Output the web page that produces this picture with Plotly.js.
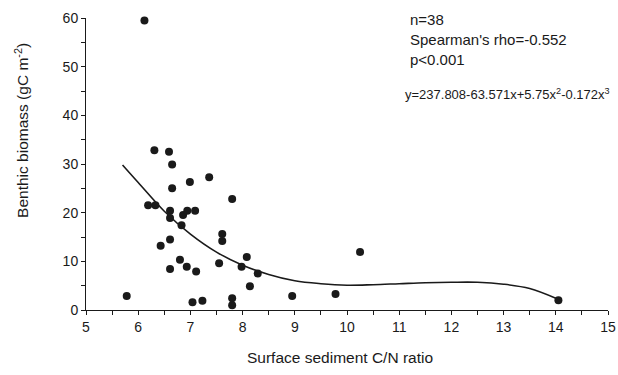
<!DOCTYPE html>
<html>
<head>
<meta charset="utf-8">
<script src="https://cdn.plot.ly/plotly-3.0.1.min.js"></script>
<style>html,body{margin:0;padding:0;background:#fff;}#chart{width:618px;height:375px;}</style>
</head>
<body>
<div id="chart"></div>
<script>
// Observed data points (C/N ratio vs benthic biomass)
var cnRatio = [6.12, 6.31, 6.59, 6.65, 6.65, 6.99, 7.36, 7.80, 6.19, 6.33,
               6.61, 6.61, 6.86, 6.94, 7.09, 6.83, 6.61, 6.43, 7.61, 7.61,
               6.80, 6.93, 6.61, 7.11, 7.55, 8.08, 7.98, 8.29, 8.14, 5.78,
               7.04, 7.23, 7.80, 7.80, 8.95, 9.78, 10.25, 14.05];
var biomass = [59.5, 32.8, 32.5, 29.9, 25.0, 26.3, 27.3, 22.8, 21.5, 21.5,
               20.4, 18.9, 19.5, 20.4, 20.4, 17.4, 14.5, 13.2, 15.6, 14.2,
               10.3, 8.9, 8.4, 7.9, 9.6, 10.9, 8.9, 7.5, 4.9, 2.9,
               1.6, 1.9, 2.4, 1.0, 2.9, 3.3, 11.9, 2.0];
// Fitted curve
var curveX = [5.7, 6, 6.5, 7, 7.5, 8, 8.5, 9, 9.5, 10, 10.5, 11, 11.5, 12, 12.5, 13, 13.5, 14];
var curveY = [29.8, 26.2, 20.3, 15.6, 11.9, 9.2, 7.3, 6.0, 5.4, 5.1, 5.2, 5.4, 5.6, 5.7, 5.7, 5.3, 4.4, 2.4];
// Axis ticks
var xTicks = [5, 6, 7, 8, 9, 10, 11, 12, 13, 14, 15];
var yTicks = [0, 10, 20, 30, 40, 50, 60];
// Text
var statLines = ["n=38", "Spearman's rho=-0.552", "p<0.001"];
var eqText = "y=237.808-63.571x+5.75x<sup>2</sup>-0.172x<sup>3</sup>";
var xTitle = "Surface sediment C/N ratio";
var yTitle = "Benthic biomass (gC m<sup>-2</sup>)";

var fontFam = "Liberation Sans, Arial, sans-serif";
var ink = "#1a1a1a";

var traces = [
  {x: curveX, y: curveY, mode: "lines", type: "scatter",
   line: {color: ink, width: 1.6, shape: "spline"}, hoverinfo: "skip"},
  {x: cnRatio, y: biomass, mode: "markers", type: "scatter",
   marker: {color: ink, size: 8}, cliponaxis: false}
];

var statY = [0.995, 0.925, 0.857];
var annotations = [];
for (var i = 0; i < statLines.length; i++) {
  annotations.push({text: statLines[i], xref: "paper", yref: "paper",
    x: 0.617, y: statY[i], xanchor: "left", yanchor: "middle",
    showarrow: false, font: {family: fontFam, size: 15, color: ink}});
}
annotations.push({text: eqText, xref: "paper", yref: "paper",
  x: 0.609, y: 0.74, xanchor: "left", yanchor: "middle", borderpad: 0,
  showarrow: false, font: {family: fontFam, size: 13, color: ink}});
annotations.push({text: xTitle, xref: "paper", yref: "paper",
  x: 0.487, y: -0.162, xanchor: "center", yanchor: "middle",
  showarrow: false, font: {family: fontFam, size: 15.5, color: ink}});
annotations.push({text: yTitle, xref: "paper", yref: "paper", textangle: -90,
  x: -0.123, y: 0.616, xanchor: "center", yanchor: "middle",
  showarrow: false, font: {family: fontFam, size: 15.5, color: ink}});

var layout = {
  width: 618, height: 375,
  margin: {l: 86, r: 10, t: 18, b: 65},
  paper_bgcolor: "#fff", plot_bgcolor: "#fff",
  showlegend: false,
  font: {family: fontFam, size: 14, color: ink},
  xaxis: {
    range: [5, 15], tickvals: xTicks, ticktext: xTicks.map(String),
    showgrid: false, zeroline: false, showline: true, linecolor: ink, linewidth: 1,
    ticks: "outside", ticklen: 4, tickcolor: ink,
    minor: {dtick: 0.5, tick0: 5, ticks: "outside", ticklen: 4, tickcolor: ink, showgrid: false},
    tickfont: {size: 14, color: ink}
  },
  yaxis: {
    range: [0, 60], tickvals: yTicks, ticktext: yTicks.map(String),
    showgrid: false, zeroline: false, showline: true, linecolor: ink, linewidth: 1,
    ticks: "outside", ticklen: 4, tickcolor: ink,
    minor: {dtick: 5, tick0: 0, ticks: "outside", ticklen: 4, tickcolor: ink, showgrid: false},
    tickfont: {size: 14, color: ink}
  },
  annotations: annotations
};

Plotly.newPlot("chart", traces, layout, {displayModeBar: false, staticPlot: true});
</script>
</body>
</html>
